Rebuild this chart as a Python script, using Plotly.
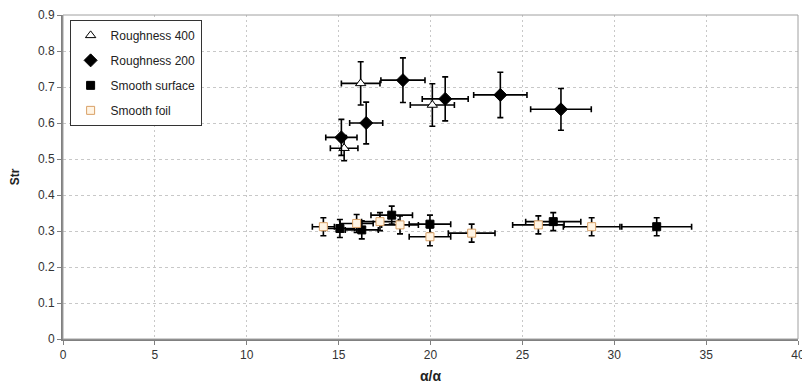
import plotly.graph_objects as go

# Roughness 400 (open triangles)
r400_x = [16.2, 20.1, 15.3]
r400_y = [0.710, 0.650, 0.530]
r400_xerr = [1.05, 1.2, 0.75]
r400_yerr = [0.060, 0.059, 0.035]

# Roughness 200 (filled diamonds)
r200_x = [15.15, 16.5, 18.5, 20.8, 23.8, 27.1]
r200_y = [0.560, 0.600, 0.719, 0.667, 0.678, 0.638]
r200_xerr = [0.85, 0.9, 1.2, 1.25, 1.45, 1.65]
r200_yerr = [0.050, 0.058, 0.062, 0.061, 0.063, 0.058]

# Smooth surface (filled squares)
ss_x = [15.07, 16.26, 17.89, 19.97, 26.68, 32.31]
ss_y = [0.307, 0.303, 0.344, 0.319, 0.326, 0.312]
ss_xerr = [0.8, 0.9, 1.13, 1.13, 1.5, 1.9]
ss_yerr = [0.025, 0.025, 0.025, 0.025, 0.025, 0.025]

# Smooth foil (open squares)
sf_x = [14.17, 15.98, 17.25, 18.34, 19.97, 22.24, 25.87, 28.77]
sf_y = [0.312, 0.321, 0.326, 0.317, 0.284, 0.294, 0.317, 0.312]
sf_xerr = [0.6, 0.9, 1.0, 1.0, 1.13, 1.27, 1.4, 1.54]
sf_yerr = [0.025, 0.025, 0.025, 0.025, 0.025, 0.025, 0.025, 0.025]

x_ticks = [0, 5, 10, 15, 20, 25, 30, 35, 40]
y_ticks = [0, 0.1, 0.2, 0.3, 0.4, 0.5, 0.6, 0.7, 0.8, 0.9]
y_ticktext = ["0", "0.1", "0.2", "0.3", "0.4", "0.5", "0.6", "0.7", "0.8", "0.9"]

def err(arr):
    return dict(type="data", array=arr, visible=True, color="black", thickness=1.6, width=3)

fig = go.Figure()
fig.add_trace(go.Scatter(
    x=r400_x, y=r400_y, mode="markers", name="Roughness 400", legendgroup="a",
    error_x=err(r400_xerr), error_y=err(r400_yerr),
    marker=dict(symbol="triangle-up", size=9, color="white", line=dict(color="black", width=1))))
fig.add_trace(go.Scatter(
    x=r200_x, y=r200_y, mode="markers", name="Roughness 200", legendgroup="b",
    error_x=err(r200_xerr), error_y=err(r200_yerr),
    marker=dict(symbol="diamond", size=10, color="black", line=dict(color="black", width=1))))
fig.add_trace(go.Scatter(
    x=ss_x, y=ss_y, mode="markers", name="Smooth surface", legendgroup="c",
    error_x=err(ss_xerr), error_y=err(ss_yerr),
    marker=dict(symbol="square", size=8, color="black", line=dict(color="black", width=1))))
fig.add_trace(go.Scatter(
    x=sf_x, y=sf_y, mode="markers", name="Smooth foil", legendgroup="d",
    error_x=err(sf_xerr), error_y=err(sf_yerr),
    marker=dict(symbol="square", size=8, color="#FFF4E4", line=dict(color="#D9A066", width=1))))

font_main = "Liberation Sans, Arial, sans-serif"

# The page body adds an 8px offset, so the figure is sized to fit the window.
fig.update_layout(
    width=802, height=383,
    margin=dict(l=55, r=12, t=7, b=52),
    paper_bgcolor="white", plot_bgcolor="white",
    font=dict(family=font_main, size=12, color="#333333"),
    showlegend=True,
    legend=dict(x=0.009, y=0.985, xanchor="left", yanchor="top",
                bgcolor="white", bordercolor="#333333", borderwidth=1,
                font=dict(size=12, color="#222222"), itemwidth=30,
                tracegroupgap=6),
    xaxis=dict(range=[0, 40], tickvals=x_ticks, ticktext=[str(v) for v in x_ticks],
               showgrid=True, gridcolor="#C8C8C8", griddash="2px,3px", gridwidth=1,
               showline=True, linecolor="#808080", linewidth=2,
               ticks="outside", ticklen=4, tickcolor="#808080",
               zeroline=False, automargin=False,
               title=dict(text="<b>α/α</b>", font=dict(size=14, color="#222222"), standoff=10)),
    yaxis=dict(range=[0, 0.9], tickvals=y_ticks, ticktext=y_ticktext,
               showgrid=True, gridcolor="#C8C8C8", griddash="3px,3px", gridwidth=1,
               showline=True, linecolor="#808080", linewidth=2,
               ticks="outside", ticklen=4, tickcolor="#808080",
               zeroline=False, automargin=False,
               title=dict(text="<b>Str</b>", font=dict(size=12, color="#222222"), standoff=16)),
    shapes=[dict(type="rect", xref="paper", yref="paper", x0=0, y0=0, x1=1, y1=1,
                 line=dict(color="#A0A0A0", width=1), fillcolor="rgba(0,0,0,0)", layer="above")],
)

fig.write_html("out.html")
